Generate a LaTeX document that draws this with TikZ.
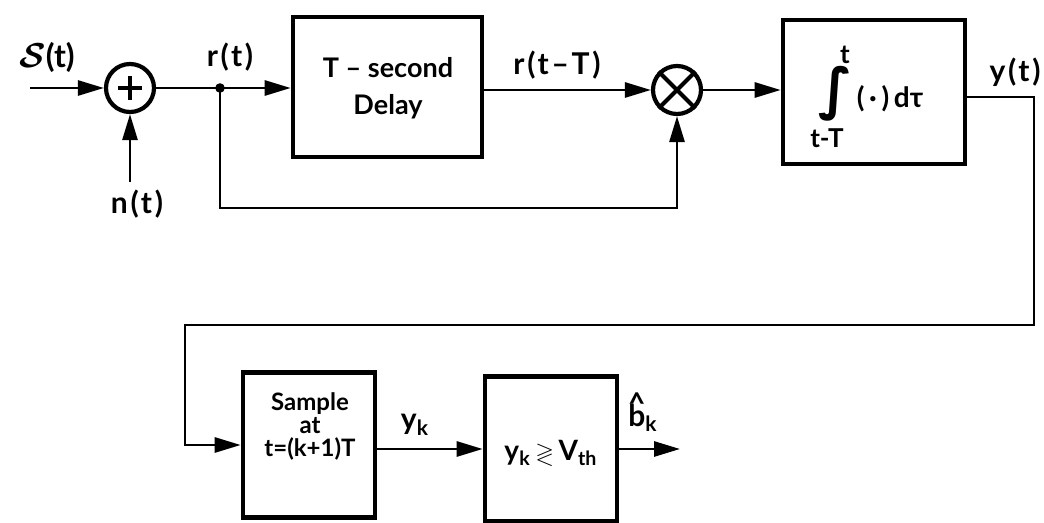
\documentclass[tikz,border=0pt]{standalone}
\usepackage{amsmath,amssymb}
\usepackage{fontspec}
\setmainfont{Lato}
\newfontfamily\symfont{DejaVu Sans}
\newfontfamily\lblfont{Lato}[LetterSpace=9]
\usetikzlibrary{arrows.meta}
\newcommand{\bhatk}{{\ooalign{b\cr\hidewidth\raisebox{0.38em}{\^{}}\hidewidth\cr}}}
\begin{document}
\begin{tikzpicture}[x=0.5pt,y=-0.5pt,
  font=\fontsize{13}{15}\selectfont\bfseries,
  blk/.style={draw, line width=2.3pt, inner sep=0pt, align=center},
  circ/.style={draw, circle, line width=2.1pt, minimum size=24pt, inner sep=0pt},
  sig/.style={line width=1.4pt},
  arr/.style={sig, -{Triangle[length=13pt,width=7.5pt]}},
  lbl/.style={inner sep=0pt, font=\lblfont\bfseries\fontsize{15}{17}\selectfont},
  txt/.style={inner sep=0pt, align=center}]
\useasboundingbox (0,0) rectangle (1044,523);

% blocks
\node[circ] (sum) at (130,88) {};
\node[circ] (mult) at (677,90) {};
\node[blk, minimum width=94.5pt, minimum height=70pt] (delay) at (387.5,87) {};
\node[blk, minimum width=91pt, minimum height=72pt] (integ) at (874,92) {};
\node[blk, minimum width=66pt, minimum height=72.5pt] (sample) at (309,445) {};
\node[blk, minimum width=66pt, minimum height=72.5pt] (dec) at (551,449) {};

% block texts
\node[txt, font=\fontsize{13.5}{18.5}\selectfont\bfseries] (delaytxt) at (388,88) {T -- second\\Delay};
\node[txt, font=\fontsize{12}{11.5}\selectfont\bfseries] (sampletxt) at (310,426) {Sample\\at\\t=(k+1)T};
\node[txt, font=\fontsize{14}{16}\selectfont\bfseries] (dectxt) at (551,453) {y\textsubscript{k}\,{\large$\gtrless$}\,V\textsubscript{th}};

% symbols inside circles
\draw[line width=2.1pt] ([xshift=-6pt]sum.center) -- ([xshift=6pt]sum.center)
  ([yshift=-6pt]sum.center) -- ([yshift=6pt]sum.center);
\draw[line width=2.1pt] (mult.45) -- (mult.225) (mult.135) -- (mult.315);

% integral contents
\node[txt, font=\symfont\bfseries\fontsize{28}{30}\selectfont] (intsym) at (836,94) {∫};
\node[txt] (intup) at (845,55) {t};
\node[txt] (intlo) at (827,138) {t-T};
\node[txt, font=\fontsize{14}{16}\selectfont\bfseries] (intbody) at (890,99) {(\,·\,)\,dτ};

% coordinates
\coordinate (in) at (30,88);
\coordinate (nin) at (130,182);
\coordinate (j) at (220,88);
\coordinate (c1) at (1034,325);
\coordinate (c2) at (185,325);
\coordinate (out) at (680,449);

% connectors
\draw[arr] (in) -- (sum.west);
\draw[arr] (nin) -- (sum.south);
\draw[sig] (sum.east) -- (j);
\fill (j) circle (2.4pt);
\draw[arr] (j) -- (delay.west |- j);
\draw[arr] (j) -- ++(0,120) -| (mult.south);
\draw[arr] (delay.east |- mult) -- (mult.west);
\draw[arr] (mult.east) -- (integ.west |- mult);
\draw[arr] ([yshift=-2.5pt]integ.east) -| (c1) -- (c2) |- (sample.west);
\draw[arr] (sample.east |- dec) -- (dec.west);
\draw[arr] (dec.east) -- (out);

% labels
\node[lbl, font=\fontsize{16}{18}\selectfont\bfseries] (lS) at (47,57) {$\boldsymbol{\mathcal{S}}$(t)};
\node[lbl] (lr) at (230,57) {r(t)};
\node[lbl] (ln) at (137,204) {n(t)};
\node[lbl] (lrT) at (557,65) {r(t–T)};
\node[lbl] (ly) at (1015,72) {y(t)};
\node[lbl] (lyk) at (415,425) {y\textsubscript{k}};
\node[lbl] (lb) at (643,418) {\bhatk\textsubscript{k}};
\end{tikzpicture}
\end{document}
